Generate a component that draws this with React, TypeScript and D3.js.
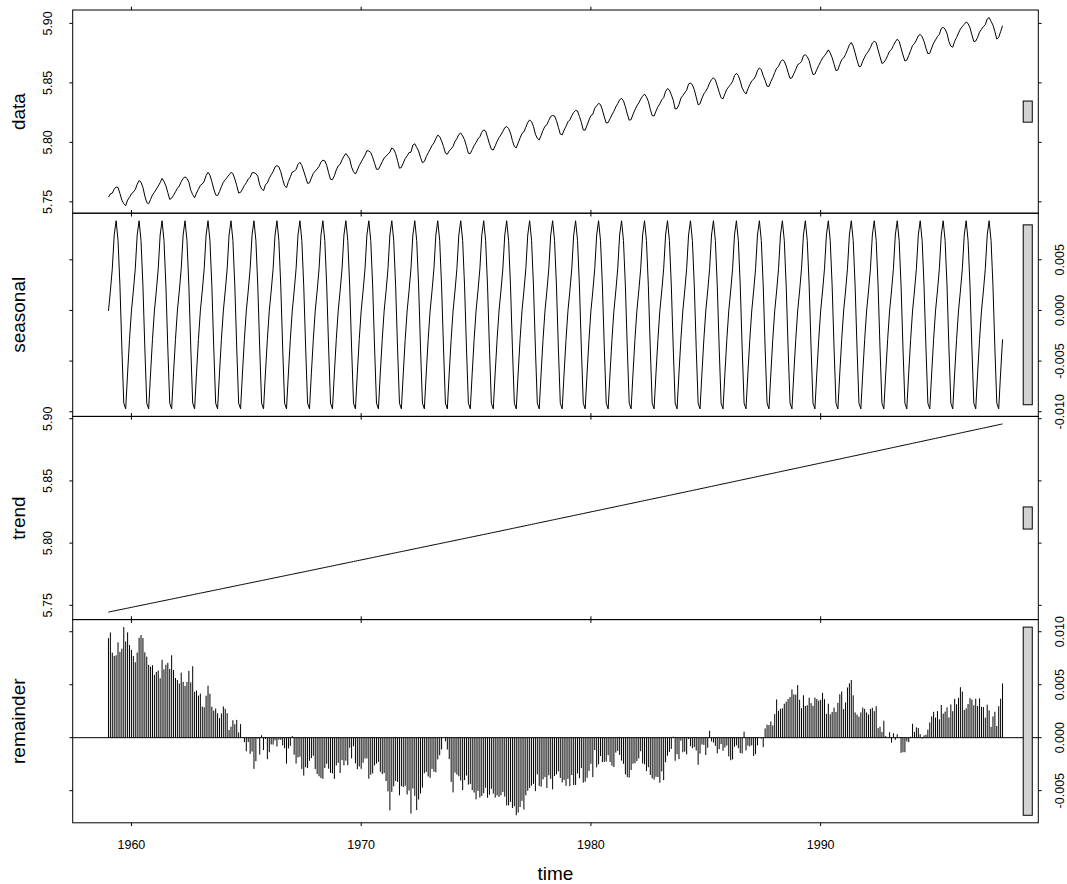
import React from 'react';
import * as d3 from 'd3';

// Monthly Mauna Loa CO2 (ppm), Jan 1959 .. Dec 1997
const START_YEAR = 1959;
const FREQUENCY = 12;
const co2Monthly: number[] = [
  315.42, 316.31, 316.50, 317.56, 318.13, 318.00, 316.39, 314.65, 313.68, 313.18, 314.66, 315.43, // 1959
  316.27, 316.81, 317.42, 318.87, 319.87, 319.43, 318.01, 315.74, 314.00, 313.68, 314.84, 316.03, // 1960
  316.73, 317.54, 318.38, 319.31, 320.42, 319.61, 318.42, 316.63, 314.83, 315.16, 315.94, 316.85, // 1961
  317.78, 318.40, 319.53, 320.42, 320.85, 320.45, 319.45, 317.25, 316.11, 315.27, 316.53, 317.53, // 1962
  318.58, 318.92, 319.70, 321.22, 322.08, 321.31, 319.58, 317.61, 316.05, 315.83, 316.91, 318.20, // 1963
  319.41, 320.07, 320.74, 321.40, 322.06, 321.73, 320.27, 318.54, 316.54, 316.71, 317.53, 318.55, // 1964
  319.27, 320.28, 320.73, 321.97, 322.00, 321.71, 321.05, 318.71, 317.66, 317.14, 318.70, 319.25, // 1965
  320.46, 321.43, 322.23, 323.54, 323.91, 323.59, 322.24, 320.20, 318.48, 317.94, 319.63, 320.87, // 1966
  322.17, 322.34, 322.88, 324.25, 324.83, 323.93, 322.38, 320.76, 319.10, 319.24, 320.56, 321.80, // 1967
  322.40, 322.99, 323.73, 324.86, 325.40, 325.20, 323.98, 321.95, 320.18, 320.09, 321.16, 322.74, // 1968
  323.83, 324.26, 325.47, 326.50, 327.21, 326.54, 325.72, 323.50, 322.22, 321.62, 322.69, 323.95, // 1969
  324.89, 325.82, 326.77, 327.97, 327.91, 327.50, 326.18, 324.53, 322.93, 322.90, 323.85, 324.96, // 1970
  326.01, 326.51, 327.01, 327.62, 328.76, 328.40, 327.20, 325.27, 323.20, 323.40, 324.63, 325.85, // 1971
  326.60, 327.47, 327.58, 329.56, 329.90, 328.92, 327.88, 326.16, 324.68, 325.04, 326.34, 327.39, // 1972
  328.37, 329.40, 330.14, 331.33, 332.31, 331.90, 330.70, 329.15, 327.35, 327.02, 327.99, 328.48, // 1973
  329.18, 330.55, 331.32, 332.48, 332.92, 332.08, 331.01, 329.23, 327.27, 327.21, 328.29, 329.41, // 1974
  330.23, 331.25, 331.87, 333.14, 333.80, 333.43, 331.73, 329.90, 328.40, 328.17, 329.32, 330.59, // 1975
  331.58, 332.39, 333.33, 334.41, 334.71, 334.17, 332.89, 330.77, 329.14, 328.78, 330.14, 331.52, // 1976
  332.75, 333.24, 334.53, 335.90, 336.57, 336.10, 334.76, 332.59, 331.42, 330.98, 332.24, 333.68, // 1977
  334.80, 335.22, 336.47, 337.59, 337.84, 337.72, 336.37, 334.51, 332.60, 332.38, 333.75, 334.78, // 1978
  336.05, 336.59, 337.79, 338.71, 339.30, 339.12, 337.56, 335.92, 333.75, 333.70, 335.12, 336.56, // 1979
  337.84, 338.19, 339.91, 340.60, 341.29, 341.00, 339.39, 337.43, 335.72, 335.84, 336.93, 338.04, // 1980
  339.06, 340.30, 341.21, 342.33, 342.74, 342.08, 340.32, 338.26, 336.52, 336.68, 338.19, 339.44, // 1981
  340.57, 341.44, 342.53, 343.39, 343.96, 343.18, 341.88, 339.65, 337.81, 337.69, 339.09, 340.32, // 1982
  341.20, 342.35, 342.93, 344.77, 345.58, 345.14, 343.81, 342.21, 339.69, 339.82, 340.98, 342.82, // 1983
  343.52, 344.33, 345.11, 346.88, 347.25, 346.62, 345.22, 343.11, 340.90, 341.18, 342.80, 344.04, // 1984
  344.79, 345.82, 347.25, 348.17, 348.74, 348.07, 346.38, 344.51, 342.92, 342.62, 344.06, 345.38, // 1985
  346.11, 346.78, 347.68, 349.37, 350.03, 349.37, 347.76, 345.73, 344.68, 343.99, 345.48, 346.72, // 1986
  347.84, 348.29, 349.23, 350.80, 351.66, 351.07, 349.33, 347.92, 346.27, 346.18, 347.64, 348.78, // 1987
  350.25, 351.54, 352.05, 353.41, 354.04, 353.62, 352.22, 350.27, 348.55, 348.72, 349.91, 351.18, // 1988
  352.60, 352.92, 353.53, 355.26, 355.52, 354.97, 353.75, 351.52, 349.64, 349.83, 351.14, 352.37, // 1989
  353.50, 354.55, 355.23, 356.04, 357.00, 356.07, 354.67, 352.76, 350.82, 351.04, 352.69, 354.07, // 1990
  354.59, 355.63, 357.03, 358.48, 359.22, 358.12, 356.06, 353.92, 352.05, 352.11, 353.64, 354.89, // 1991
  355.88, 356.63, 357.72, 359.07, 359.58, 359.17, 356.94, 354.92, 352.94, 353.23, 354.09, 355.33, // 1992
  356.63, 357.10, 358.32, 359.41, 360.23, 359.55, 357.53, 355.48, 353.67, 353.95, 355.30, 356.78, // 1993
  358.34, 358.89, 359.95, 361.25, 361.67, 360.94, 359.55, 357.49, 355.84, 356.00, 357.59, 359.05, // 1994
  359.98, 361.03, 361.66, 363.48, 363.82, 363.30, 361.94, 359.50, 358.11, 357.80, 359.61, 360.74, // 1995
  362.09, 363.29, 364.06, 364.76, 365.45, 365.01, 363.70, 361.54, 359.51, 359.65, 360.80, 362.38, // 1996
  363.23, 364.06, 364.61, 366.40, 366.84, 365.68, 364.52, 362.57, 360.24, 360.83, 362.49, 364.34, // 1997
];

const panelLabels = ['data', 'seasonal', 'trend', 'remainder'];
const timeTicks = [1960, 1970, 1980, 1990];
const dataTicks = [5.75, 5.8, 5.85, 5.9];
const seasonalTicks = [-0.01, -0.005, 0.0, 0.005];
const trendTicks = [5.75, 5.8, 5.85, 5.9];
const remainderTicks = [-0.005, 0.0, 0.005, 0.01];
const tickDigits = [2, 3, 2, 3];
const xLabel = 'time';
const T_WINDOW = 1000;

// ---- STL (s.window = "periodic", t.window = 1000) ----
function loessEst(y: number[], len: number, ideg: number, xs: number): number {
  const n = y.length;
  let h = Math.max(xs - 1, n - xs);
  if (len > n) h += Math.floor((len - n) / 2);
  const h9 = 0.999 * h, h1 = 0.001 * h;
  const w = new Array(n).fill(0);
  let a = 0;
  for (let j = 1; j <= n; j++) {
    const r = Math.abs(j - xs);
    if (r <= h9) {
      w[j - 1] = r <= h1 ? 1 : Math.pow(1 - Math.pow(r / h, 3), 3);
      a += w[j - 1];
    }
  }
  for (let j = 0; j < n; j++) w[j] /= a;
  if (h > 0 && ideg > 0) {
    let am = 0;
    for (let j = 1; j <= n; j++) am += w[j - 1] * j;
    let b = xs - am;
    let c = 0;
    for (let j = 1; j <= n; j++) c += w[j - 1] * (j - am) * (j - am);
    if (Math.sqrt(c) > 0.001 * (n - 1)) {
      b /= c;
      for (let j = 1; j <= n; j++) w[j - 1] *= b * (j - am) + 1;
    }
  }
  let ys = 0;
  for (let j = 0; j < n; j++) ys += w[j] * y[j];
  return ys;
}

function loessSmooth(y: number[], len: number, ideg: number, jump: number): number[] {
  const n = y.length;
  const ys = new Array(n).fill(0);
  const nj = Math.min(jump, n - 1);
  for (let i = 1; i <= n; i += nj) ys[i - 1] = loessEst(y, len, ideg, i);
  if (nj !== 1) {
    for (let i = 1; i <= n - nj; i += nj) {
      const delta = (ys[i + nj - 1] - ys[i - 1]) / nj;
      for (let j = i + 1; j <= i + nj - 1; j++) ys[j - 1] = ys[i - 1] + delta * (j - i);
    }
    const k = Math.floor((n - 1) / nj) * nj + 1;
    if (k !== n) {
      ys[n - 1] = loessEst(y, len, ideg, n);
      if (k !== n - 1) {
        const delta = (ys[n - 1] - ys[k - 1]) / (n - k);
        for (let j = k + 1; j <= n - 1; j++) ys[j - 1] = ys[k - 1] + delta * (j - k);
      }
    }
  }
  return ys;
}

function stlPeriodic(y: number[], period: number, tWindow: number) {
  const n = y.length;
  let trend = new Array(n).fill(0);
  let seasonal = new Array(n).fill(0);
  for (let iter = 0; iter < 2; iter++) {
    const detr = y.map((v, i) => v - trend[i]);
    const means = d3.range(period).map((k) => d3.mean(detr.filter((_, i) => i % period === k)) as number);
    const level = d3.mean(means) as number;
    seasonal = y.map((_, i) => means[i % period] - level);
    const deseas = y.map((v, i) => v - seasonal[i]);
    trend = loessSmooth(deseas, tWindow, 1, Math.ceil(tWindow / 10));
  }
  const remainder = y.map((v, i) => v - seasonal[i] - trend[i]);
  return { seasonal, trend, remainder };
}

// ---- layout ----
const W = 1067;
const H = 884;
const PL = 72.7;
const PR = 1038.3;
const PT = 10;
const PH = 203.2;
const TICK = 3.3;
const FONT = 'Liberation Sans, Arial, sans-serif';

export default function App() {
  const times = co2Monthly.map((_, i) => START_YEAR + i / FREQUENCY);
  const logData = co2Monthly.map((v) => Math.log(v));
  const { seasonal, trend, remainder } = stlPeriodic(logData, FREQUENCY, T_WINDOW);
  const series = [logData, seasonal, trend, remainder];
  const tickSets = [dataTicks, seasonalTicks, trendTicks, remainderTicks];
  const ranges = series.map((s) => d3.extent(s) as [number, number]);
  const mx = d3.min(ranges, (r) => r[1] - r[0]) as number;

  const t0 = times[0];
  const t1 = times[times.length - 1];
  const tspan = t1 - t0;
  const x = d3.scaleLinear().domain([t0 - 0.04 * tspan, t1 + 0.04 * tspan]).range([PL, PR]);
  const dxBar = (PR - PL) / 64;
  const leftLabelX = PL - 24.4;
  const rightLabelX = PR + 21.5;

  return (
    <svg
      width={W}
      height={H}
      style={{ position: 'absolute', left: 0, top: 0, background: '#fff' }}
      fontFamily={FONT}
    >
      <rect x={0} y={0} width={W} height={H} fill="#fff" />
      {series.map((s, i) => {
        const top = PT + i * PH;
        const bottom = top + PH;
        const [lo, hi] = ranges[i];
        const r = hi - lo;
        const y = d3.scaleLinear().domain([lo - 0.04 * r, hi + 0.04 * r]).range([bottom, top]);
        const center = (lo + hi) / 2;
        const line = d3
          .line<number>()
          .x((_, k) => x(times[k]))
          .y((v) => y(v));
        const labelRight = i % 2 === 1;
        const lx = labelRight ? rightLabelX : leftLabelX;
        return (
          <g key={i}>
            {i < 3 ? (
              <path d={line(s) || ''} fill="none" stroke="#000" strokeWidth={1} />
            ) : (
              <g>
                {s.map((v, k) => (
                  <line key={k} x1={x(times[k])} x2={x(times[k])} y1={y(0)} y2={y(v)} stroke="#000" strokeWidth={1} />
                ))}
                <line x1={PL} x2={PR} y1={y(0)} y2={y(0)} stroke="#000" strokeWidth={1} />
              </g>
            )}
            <rect
              x={PR - dxBar}
              width={dxBar * 0.6}
              y={y(center + mx / 2)}
              height={y(center - mx / 2) - y(center + mx / 2)}
              fill="#d3d3d3"
              stroke="#000"
              strokeWidth={1}
            />
            <rect x={PL} y={top} width={PR - PL} height={PH} fill="none" stroke="#000" strokeWidth={1} />
            {tickSets[i].map((tv) => (
              <g key={'yt' + tv}>
                <line x1={PL} x2={PL - TICK} y1={y(tv)} y2={y(tv)} stroke="#000" />
                <line x1={PR} x2={PR + TICK} y1={y(tv)} y2={y(tv)} stroke="#000" />
                <text
                  x={lx}
                  y={y(tv)}
                  fontSize={12.5}
                  textAnchor="middle"
                  dominantBaseline="central"
                  transform={`rotate(-90, ${lx}, ${y(tv)})`}
                  fill="#000"
                >
                  {tv.toFixed(tickDigits[i])}
                </text>
              </g>
            ))}
            {timeTicks.map((tt) => (
              <g key={'xt' + tt}>
                <line x1={x(tt)} x2={x(tt)} y1={top} y2={top - TICK} stroke="#000" />
                <line x1={x(tt)} x2={x(tt)} y1={bottom} y2={bottom + TICK} stroke="#000" />
                {i === 3 && (
                  <text x={x(tt)} y={bottom + 22.5} fontSize={12.5} textAnchor="middle" dominantBaseline="central" fill="#000">
                    {tt}
                  </text>
                )}
              </g>
            ))}
            <text
              x={18.5}
              y={(top + bottom) / 2}
              fontSize={19}
              textAnchor="middle"
              dominantBaseline="central"
              transform={`rotate(-90, 18.5, ${(top + bottom) / 2})`}
              fill="#000"
            >
              {panelLabels[i]}
            </text>
          </g>
        );
      })}
      <text x={(PL + PR) / 2} y={873.5} fontSize={19} textAnchor="middle" dominantBaseline="central" fill="#000">
        {xLabel}
      </text>
    </svg>
  );
}
